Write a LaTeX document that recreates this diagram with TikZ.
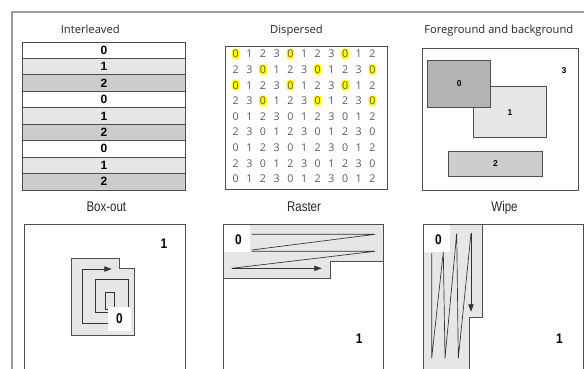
\documentclass[tikz,border=0pt]{standalone}
\usepackage{fontspec}
\setmainfont{Liberation Sans}
\newfontfamily\uifont{Open Sans}
\usetikzlibrary{arrows.meta}

\definecolor{shadeA}{HTML}{E6E6E6}
\definecolor{shadeB}{HTML}{CCCCCC}
\definecolor{shadeC}{HTML}{B3B3B3}
\definecolor{edgegray}{HTML}{4D4D4D}
\definecolor{framegray}{HTML}{9A9A9A}
\definecolor{numgray}{HTML}{5A5A5A}
\definecolor{marker}{HTML}{FFFF00}

\begin{document}
\begin{tikzpicture}[x=0.75pt,y=-0.75pt,
  toptitle/.style={font=\uifont\fontsize{8.4}{10}\selectfont, text=black!85, inner sep=0pt, anchor=base},
  lowtitle/.style={font=\fontsize{10.5}{12}\selectfont, text=black!85, inner sep=0pt, anchor=base, xscale=0.82},
  panel/.style={draw=edgegray, line width=0.6pt},
  introw/.style={draw=edgegray, line width=0.6pt, minimum width=121.7pt, minimum height=12.33pt, inner sep=0pt, font=\bfseries\fontsize{9}{10}\selectfont},
  gridnum/.style={font=\uifont\fontsize{8}{9}\selectfont, text=numgray, inner xsep=0.6pt, inner ysep=1pt},
  marked/.style={fill=marker, rounded corners=2pt},
  fgbox/.style={draw=edgegray, line width=0.6pt, inner sep=0pt, font=\bfseries\fontsize{6.4}{7}\selectfont},
  bignum/.style={font=\bfseries\fontsize{10.5}{12}\selectfont, xscale=0.85, inner sep=0pt},
  trail/.style={draw=black!80, line width=0.5pt},
  headed/.style={-{Triangle[length=5.5pt,width=4pt]}},
]
\useasboundingbox (0,0) rectangle (584,368);

% outer frame
\draw[framegray, line width=0.8pt] (12,372) -- (12,12) -- (590,12);

% titles
\node[toptitle] (t-inter) at (90.3,33.3) {Interleaved};
\node[toptitle] (t-disp) at (296.5,33.3) {Dispersed};
\node[toptitle] (t-fg) at (498.8,33.3) {Foreground and background};
\node[lowtitle] (t-box) at (106.3,211.7) {Box-out};
\node[lowtitle] (t-ras) at (304,211.7) {Raster};
\node[lowtitle] (t-wipe) at (504.5,211.7) {Wipe};

% interleaved rows
\foreach \i/\d/\c in {0/0/white,1/1/shadeA,2/2/shadeB,3/0/white,4/1/shadeA,5/2/shadeB,6/0/white,7/1/shadeA,8/2/shadeB}
  \node[introw, fill=\c] (row\i) at (103.85, 50.22+16.44*\i) {\d};

% dispersed grid
\draw[panel] (225,46) rectangle (387,189);
\foreach \r in {0,...,8}{
  \foreach \c in {0,...,10}{
    \pgfmathtruncatemacro\dig{mod(\c+2*mod(\r,2),4)}
    \pgfmathtruncatemacro\flag{and(\r<4,\dig==0)}
    \ifnum\flag=1
      \node[gridnum, marked] (g-\r-\c) at (235.7+13.67*\c, 54+15.6*\r) {\dig};
    \else
      \node[gridnum] (g-\r-\c) at (235.7+13.67*\c, 54+15.6*\r) {\dig};
    \fi
  }
}

% foreground and background
\draw[panel] (422.7,48.3) rectangle (578,190);
\node[fgbox, fill=shadeA, minimum width=55.05pt, minimum height=38.25pt] (fg1) at (510,112.2) {1};
\node[fgbox, fill=shadeC, minimum width=47.25pt, minimum height=35.5pt] (fg0) at (459.2,83.7) {0};
\node[fgbox, fill=shadeB, minimum width=70.8pt, minimum height=18.75pt] (fg2) at (495.5,163.5) {2};
\node[font=\bfseries\fontsize{6.4}{7}\selectfont, inner sep=0pt] (fg3) at (564,70.7) {3};

% box-out
\draw[panel] (24,224.3) rectangle (185,380);
\draw[panel, fill=shadeA] (71.3,258.3) -- (119.3,258.3) -- (119.3,268.7) -- (134,268.7) -- (134,335.5) -- (71.3,335.5) -- cycle;
\draw[trail] (110,309) -- (105,309) -- (105,292.3) -- (114.3,292.3) -- (114.3,310);
\draw[trail] (110,312.7) -- (95,312.7) -- (95,279.3) -- (128.3,279.3) -- (128.3,310);
\draw[trail, headed] (110,323.3) -- (82.7,323.3) -- (82.7,269) -- (111.7,269);
\node[fill=white, minimum width=17.25pt, minimum height=18.2pt, inner sep=0pt] (bo0box) at (119.5,318.8) {};
\node[bignum] (bo0) at (119.5,319) {0};
\node[bignum] (bo1) at (164,244) {1};

% raster
\draw[panel] (223.3,224.3) rectangle (383.3,380);
\draw[panel, fill=shadeA] (223.3,224.3) -- (383.3,224.3) -- (383.3,261.7) -- (330,261.7) -- (330,278.3) -- (223.3,278.3) -- cycle;
\fill[white] (224,225) rectangle (250,252.3);
\node[bignum] (ra0) at (238.5,240) {0};
\draw[trail] (251.7,234.3) -- (375,234.3) -- (251.7,250);
\draw[trail] (251.7,251.3) -- (375,251.3) -- (231.7,268.3);
\draw[trail, headed] (231.7,268.3) -- (321.7,268.3);
\node[bignum] (ra1) at (359.3,339) {1};

% wipe
\draw[panel] (423.3,224.3) rectangle (583,380);
\draw[panel, fill=shadeA] (423.3,224.3) -- (482.3,224.3) -- (482.3,317.7) -- (469,317.7) -- (469,380) -- (423.3,380) -- cycle;
\fill[white] (424,225) rectangle (450,252.3);
\node[bignum] (wi0) at (438.5,240) {0};
\draw[trail] (431.7,253.3) -- (431.7,358.3) -- (443.3,251.7) -- (445,358.3) -- (456.7,233.3) -- (458.3,358.3) -- (471,233.3);
\draw[trail, headed] (471,233.3) -- (471,311.7);
\node[bignum] (wi1) at (559.3,339) {1};
\end{tikzpicture}
\end{document}
